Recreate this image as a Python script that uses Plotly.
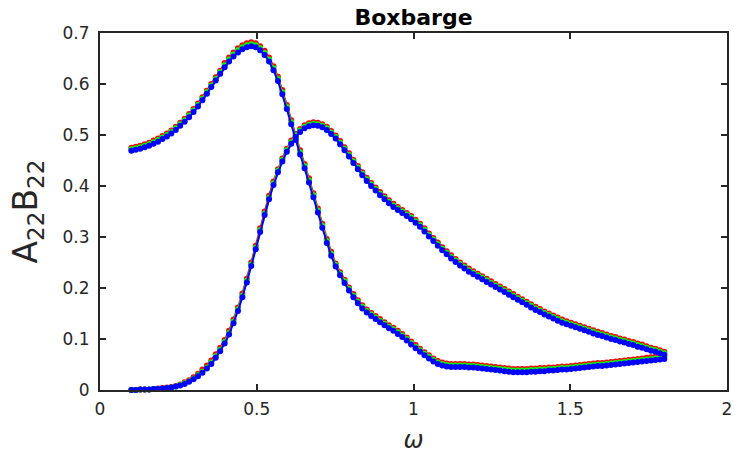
import numpy as np
import plotly.graph_objects as go

omega = np.linspace(0.1, 1.8, 121)

A22_blue = [0.469,0.471,0.473,0.476,0.479,0.483,0.487,0.492,0.497,0.503,
            0.510,0.518,0.526,0.535,0.545,0.556,0.568,0.581,0.594,0.607,
            0.620,0.633,0.644,0.654,0.662,0.668,0.672,0.674,0.672,0.666,
            0.657,0.644,0.627,0.606,0.580,0.551,0.521,0.490,0.462,0.435,
            0.407,0.378,0.348,0.318,0.288,0.263,0.242,0.225,0.210,0.195,
            0.182,0.170,0.160,0.152,0.145,0.139,0.133,0.127,0.121,0.116,
            0.110,0.104,0.097,0.089,0.082,0.075,0.068,0.062,0.056,0.051,
            0.048,0.046,0.045,0.045,0.045,0.045,0.044,0.044,0.043,0.042,
            0.041,0.040,0.039,0.038,0.037,0.036,0.035,0.035,0.035,0.035,
            0.036,0.036,0.037,0.037,0.038,0.038,0.039,0.040,0.040,0.041,
            0.042,0.043,0.044,0.045,0.046,0.047,0.047,0.048,0.049,0.050,
            0.051,0.052,0.053,0.054,0.055,0.056,0.057,0.058,0.059,0.060,
            0.061]

A22_green = [0.472,0.474,0.476,0.479,0.482,0.486,0.490,0.495,0.500,0.506,
             0.513,0.521,0.529,0.538,0.548,0.559,0.571,0.584,0.597,0.610,
             0.623,0.637,0.648,0.658,0.666,0.672,0.676,0.678,0.676,0.670,
             0.661,0.648,0.631,0.610,0.584,0.555,0.525,0.494,0.466,0.439,
             0.411,0.382,0.352,0.322,0.292,0.267,0.245,0.228,0.213,0.198,
             0.185,0.173,0.163,0.155,0.148,0.142,0.136,0.130,0.124,0.119,
             0.113,0.107,0.100,0.092,0.085,0.078,0.071,0.065,0.059,0.054,
             0.051,0.049,0.048,0.048,0.048,0.048,0.047,0.047,0.046,0.045,
             0.044,0.043,0.042,0.041,0.040,0.039,0.038,0.038,0.038,0.038,
             0.039,0.039,0.040,0.040,0.041,0.041,0.042,0.043,0.043,0.044,
             0.045,0.046,0.047,0.048,0.049,0.050,0.050,0.051,0.052,0.053,
             0.054,0.055,0.056,0.057,0.058,0.059,0.060,0.061,0.062,0.063,
             0.064]

A22_red = [0.475,0.477,0.479,0.482,0.485,0.489,0.493,0.498,0.503,0.509,
           0.516,0.524,0.532,0.541,0.551,0.562,0.574,0.587,0.600,0.613,
           0.626,0.641,0.652,0.662,0.670,0.676,0.680,0.682,0.680,0.674,
           0.665,0.652,0.635,0.614,0.588,0.559,0.529,0.498,0.470,0.443,
           0.415,0.386,0.356,0.326,0.296,0.271,0.248,0.231,0.216,0.201,
           0.188,0.176,0.166,0.158,0.151,0.145,0.139,0.133,0.127,0.122,
           0.116,0.110,0.103,0.095,0.088,0.081,0.074,0.068,0.062,0.057,
           0.054,0.052,0.051,0.051,0.051,0.051,0.050,0.050,0.049,0.048,
           0.047,0.046,0.045,0.044,0.043,0.042,0.041,0.041,0.041,0.041,
           0.042,0.042,0.043,0.043,0.044,0.044,0.045,0.046,0.046,0.047,
           0.048,0.049,0.050,0.051,0.052,0.053,0.053,0.054,0.055,0.056,
           0.057,0.058,0.059,0.060,0.061,0.062,0.063,0.064,0.065,0.066,
           0.067]

B22_blue = [0.000,0.000,0.001,0.001,0.001,0.002,0.002,0.003,0.004,0.005,
            0.007,0.009,0.012,0.016,0.021,0.027,0.034,0.042,0.051,0.063,
            0.076,0.091,0.109,0.131,0.155,0.182,0.211,0.243,0.276,0.310,
            0.343,0.374,0.402,0.427,0.448,0.467,0.483,0.496,0.506,0.513,
            0.517,0.519,0.518,0.515,0.510,0.502,0.493,0.482,0.470,0.458,
            0.445,0.433,0.421,0.410,0.400,0.391,0.382,0.374,0.366,0.359,
            0.353,0.347,0.341,0.335,0.328,0.320,0.311,0.301,0.292,0.283,
            0.274,0.266,0.258,0.251,0.244,0.238,0.232,0.227,0.222,0.217,
            0.212,0.207,0.202,0.197,0.192,0.187,0.182,0.177,0.172,0.167,
            0.162,0.157,0.153,0.148,0.144,0.140,0.136,0.132,0.129,0.126,
            0.123,0.120,0.117,0.114,0.111,0.108,0.106,0.103,0.100,0.098,
            0.095,0.093,0.090,0.088,0.085,0.083,0.080,0.077,0.075,0.072,
            0.069]

B22_green = [0.000,0.000,0.001,0.001,0.001,0.002,0.002,0.003,0.004,0.005,
             0.007,0.010,0.013,0.017,0.022,0.029,0.036,0.044,0.054,0.066,
             0.079,0.094,0.112,0.134,0.158,0.185,0.214,0.246,0.279,0.313,
             0.346,0.377,0.405,0.430,0.451,0.470,0.486,0.499,0.509,0.516,
             0.520,0.522,0.521,0.518,0.513,0.505,0.496,0.485,0.473,0.461,
             0.448,0.436,0.424,0.413,0.403,0.394,0.385,0.377,0.369,0.362,
             0.356,0.350,0.344,0.338,0.331,0.323,0.314,0.304,0.295,0.286,
             0.277,0.269,0.261,0.254,0.247,0.241,0.235,0.230,0.225,0.220,
             0.215,0.210,0.205,0.200,0.195,0.190,0.185,0.180,0.175,0.170,
             0.165,0.160,0.156,0.151,0.147,0.143,0.139,0.135,0.132,0.129,
             0.126,0.123,0.120,0.117,0.114,0.111,0.109,0.106,0.103,0.101,
             0.098,0.096,0.093,0.091,0.088,0.086,0.083,0.080,0.078,0.075,
             0.072]

B22_red = [0.000,0.000,0.001,0.001,0.001,0.002,0.003,0.004,0.005,0.006,
           0.008,0.011,0.015,0.019,0.025,0.032,0.040,0.048,0.058,0.070,
           0.083,0.098,0.116,0.138,0.162,0.189,0.218,0.250,0.283,0.317,
           0.350,0.381,0.409,0.433,0.454,0.473,0.489,0.502,0.512,0.519,
           0.523,0.525,0.524,0.521,0.516,0.508,0.499,0.488,0.476,0.464,
           0.451,0.439,0.427,0.416,0.406,0.397,0.388,0.380,0.372,0.365,
           0.359,0.353,0.347,0.341,0.334,0.326,0.317,0.307,0.298,0.289,
           0.280,0.272,0.264,0.257,0.250,0.244,0.238,0.233,0.228,0.223,
           0.218,0.213,0.208,0.203,0.198,0.193,0.188,0.183,0.178,0.173,
           0.168,0.163,0.159,0.154,0.150,0.146,0.142,0.138,0.135,0.132,
           0.129,0.126,0.123,0.120,0.117,0.114,0.112,0.109,0.106,0.104,
           0.101,0.099,0.096,0.094,0.091,0.089,0.086,0.083,0.081,0.078,
           0.075]

x_ticks = [0, 0.5, 1, 1.5, 2]
x_tick_labels = ["0", "0.5", "1", "1.5", "2"]
y_ticks = [0, 0.1, 0.2, 0.3, 0.4, 0.5, 0.6, 0.7]
y_tick_labels = ["0", "0.1", "0.2", "0.3", "0.4", "0.5", "0.6", "0.7"]

series = [
    ("red", "#ff0000", A22_red, B22_red),
    ("green", "#00ff00", A22_green, B22_green),
    ("blue", "#0000ff", A22_blue, B22_blue),
]

fig = go.Figure()
for name, color, a, b in series:
    for vals in (a, b):
        fig.add_trace(go.Scatter(
            x=omega, y=vals, mode="lines+markers",
            line=dict(color=color, width=2),
            marker=dict(color=color, size=6, symbol="circle"),
            showlegend=False, cliponaxis=False, name=name))

W, H = 734, 461
axis_color = "#262626"
fig.update_layout(
    width=W, height=H,
    margin=dict(l=100, r=7, t=33, b=71, autoexpand=False),
    paper_bgcolor="white", plot_bgcolor="white",
    font=dict(family="DejaVu Sans", color=axis_color, size=17),
    title=dict(text="<b>Boxbarge</b>", x=0.5, xanchor="center", xref="paper",
               y=1 - 17 / H, yanchor="middle", yref="container",
               font=dict(size=22, color="black", family="DejaVu Sans")),
)
fig.update_xaxes(
    range=[0, 2], tickvals=x_ticks, ticktext=x_tick_labels, automargin=False,
    showline=True, linecolor=axis_color, linewidth=2, mirror="allticks",
    ticks="inside", ticklen=6, tickwidth=1.5, tickcolor=axis_color,
    showgrid=False, zeroline=False, ticklabelstandoff=3,
    tickfont=dict(size=17, color=axis_color),
    title=dict(text="<i>ω</i>", font=dict(size=24, color=axis_color), standoff=13),
)
fig.update_yaxes(
    range=[0, 0.7], tickvals=y_ticks, ticktext=y_tick_labels, automargin=False,
    showline=True, linecolor=axis_color, linewidth=2, mirror="allticks",
    ticks="inside", ticklen=6, tickwidth=1.5, tickcolor=axis_color,
    showgrid=False, zeroline=False, ticklabelstandoff=5,
    tickfont=dict(size=17, color=axis_color),
    title=dict(text="A<sub>22</sub>B<sub>22</sub>", font=dict(size=33, color=axis_color), standoff=15),
)

fig.write_html("out.html", config={"displayModeBar": False},
               post_script="document.body.style.margin='0';document.body.style.overflow='hidden';")
